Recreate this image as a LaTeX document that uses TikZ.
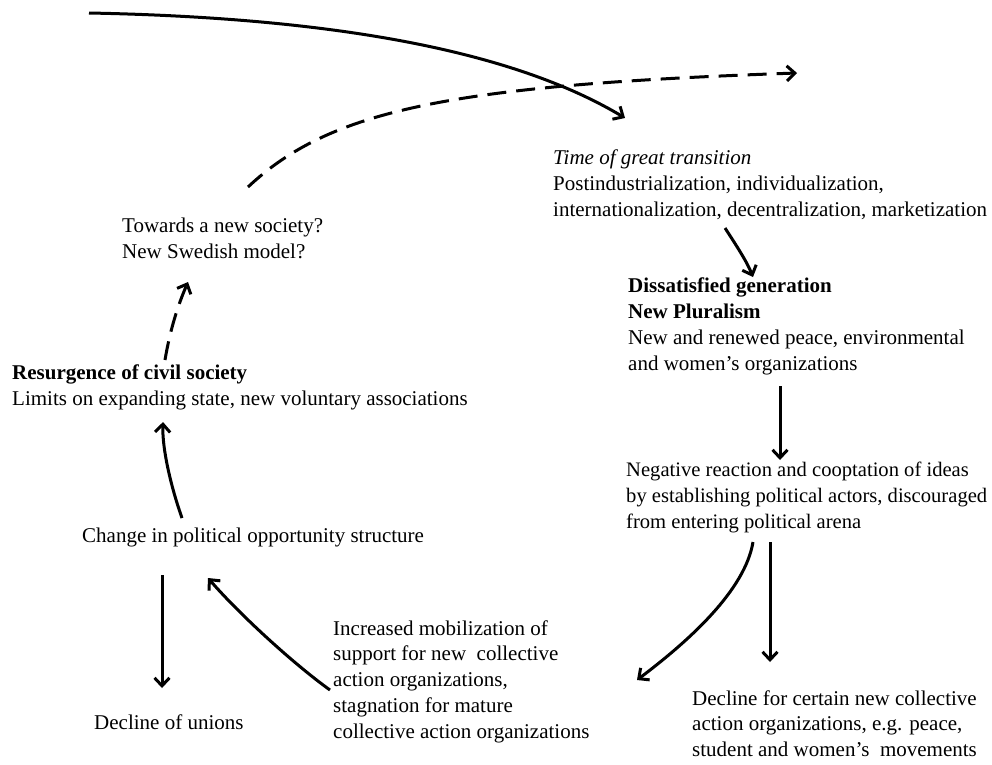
\documentclass[tikz,border=0pt]{standalone}
\usepackage{fontspec}
\setmainfont{Liberation Serif}
\usetikzlibrary{arrows.meta}
\usetikzlibrary{positioning}
\tikzset{
    txt/.style = {anchor=north west,align=left,inner sep=0,font=\fontsize{21}{25.8}\selectfont},
    flow/.style = {line width=3pt,-{Straight Barb[length=8pt,width=15pt]}},
    guess/.style = {flow,dash pattern=on 19pt off 10pt}
}

\begin{document}
\begin{tikzpicture}[x=1pt,y=-1pt]
        \useasboundingbox (0,0) rectangle (992,764);
        % Stages
        \path (553,150) node[txt] (trans) {\textit{Time of great transition}\\
                Postindustrialization, individualization,\\
                internationalization, decentralization, marketization}
            (628,278) node[txt] (dissat) {\textbf{Dissatisfied generation}\\
                \textbf{New Pluralism}\\
                New and renewed peace, environmental\\
                and women’s organizations}
            (626,462) node[txt,font=\fontsize{20.6}{25.8}\selectfont] (react) {Negative reaction and cooptation of ideas\\
                by establishing political actors, discouraged\\
                from entering political arena}
            (692,690) node[txt] (declnew) {Decline for certain new collective\\
                action organizations, e.g. peace,\\
                student and women’s\ \ movements}
            (333,620) node[txt] (mobil) {Increased mobilization of\\
                support for new\ \ collective\\
                action organizations,\\
                stagnation for mature\\
                collective action organizations}
            (94,714) node[txt] (unions) {Decline of unions}
            (82,528) node[txt] (change) {Change in political opportunity structure}
            (12,365) node[txt] (resurg) {\textbf{Resurgence of civil society}\\
                Limits on expanding state, new voluntary associations}
            (122,218) node[txt] (society) {Towards a new society?\\
                New Swedish model?}
        ;
        % Arrow ends
        \path (89,13) coordinate (past)
            (625,118) coordinate (trans-in)
            (248,187) coordinate (society-out)
            (797,73) coordinate (future)
            (725,228) coordinate (trans-out)
            (753,277) coordinate (dissat-in)
            (780,386) coordinate (dissat-out)
            (780,460) coordinate (react-in)
            (753,542) coordinate (react-l)
            (770,542) coordinate (react-r)
            (637,680) coordinate (mobil-in)
            (770,662) coordinate (declnew-in)
            (330,690) coordinate (mobil-out)
            (208,578) coordinate (change-in)
            (162,575) coordinate (change-out)
            (162,688) coordinate (unions-in)
            (182,518) coordinate (change-up)
            (163,422) coordinate (resurg-in)
            (165,360) coordinate (resurg-out)
            (188,282) coordinate (society-in)
        ;
        % Curved arrows
        \draw[flow] (past) .. controls (350,18) and (520,55) .. (trans-in);
        \draw[guess] (society-out) .. controls (330,110) and (450,85) .. (future);
        \draw[flow] (trans-out) .. controls (738,248) and (747,262) .. (dissat-in);
        \draw[flow] (react-l) .. controls (745,590) and (690,640) .. (mobil-in);
        \draw[flow] (mobil-out) .. controls (295,665) and (240,615) .. (change-in);
        \draw[flow] (change-up) .. controls (172,490) and (162,450) .. (resurg-in);
        \draw[guess] (resurg-out) .. controls (170,330) and (178,305) .. (society-in);
        % Straight arrows
        \foreach \src/\dest in {dissat-out/react-in,react-r/declnew-in,change-out/unions-in}
            \draw[flow] (\src) -- (\dest);
\end{tikzpicture}
\end{document}
